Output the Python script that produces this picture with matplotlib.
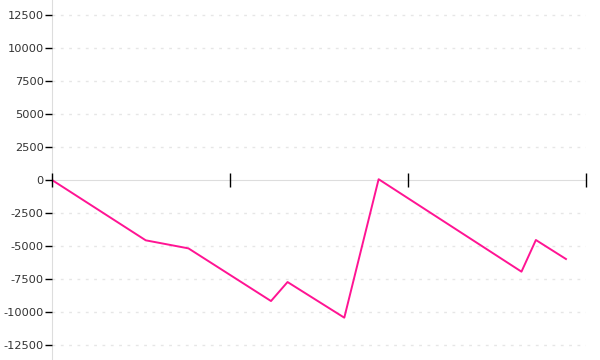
import matplotlib
matplotlib.use("Agg")
import matplotlib.pyplot as plt

# values
x = [0, 0.527, 0.767, 1.231, 1.324, 1.643, 1.836, 2.639, 2.72, 2.889]
y = [0, -4570, -5180, -9170, -7730, -10430, 60, -6945, -4545, -5985]
yticks = [-12500, -10000, -7500, -5000, -2500, 0, 2500, 5000, 7500, 10000, 12500]
xticks = [0, 1, 2, 3]

fig = plt.figure(figsize=(6, 3.6), dpi=100)
ax = fig.add_axes([52 / 600, 0, (585.7 - 52) / 600, 1])

ax.set_xlim(0, 3)
ax.set_ylim(-13636, 13636)

# dashed grid, solid zero line
for v in yticks:
    if v != 0:
        ax.axhline(v, color="#e6e6e6", lw=1, ls=(0, (2, 4)), zorder=0)

ax.plot(x, y, color="#ff1493", lw=1.4, zorder=3)

for s in ["top", "right"]:
    ax.spines[s].set_visible(False)
ax.spines["left"].set_color("#dddddd")
ax.spines["bottom"].set_position(("data", 0))
ax.spines["bottom"].set_color("#dddddd")
for s in ax.spines.values():
    s.set_zorder(0.5)
ax.xaxis.set_zorder(4)
ax.yaxis.set_zorder(4)

ax.set_yticks(yticks)
ax.set_yticklabels([str(v) for v in yticks])
ax.tick_params(axis="y", length=5, width=1, color="black", labelsize=8.2,
               labelcolor="#333333", pad=1)
ax.set_xticks(xticks)
ax.set_xticklabels([])
ax.tick_params(axis="x", direction="inout", length=10, width=1, color="black")

fig.savefig("out.png", dpi=100)
